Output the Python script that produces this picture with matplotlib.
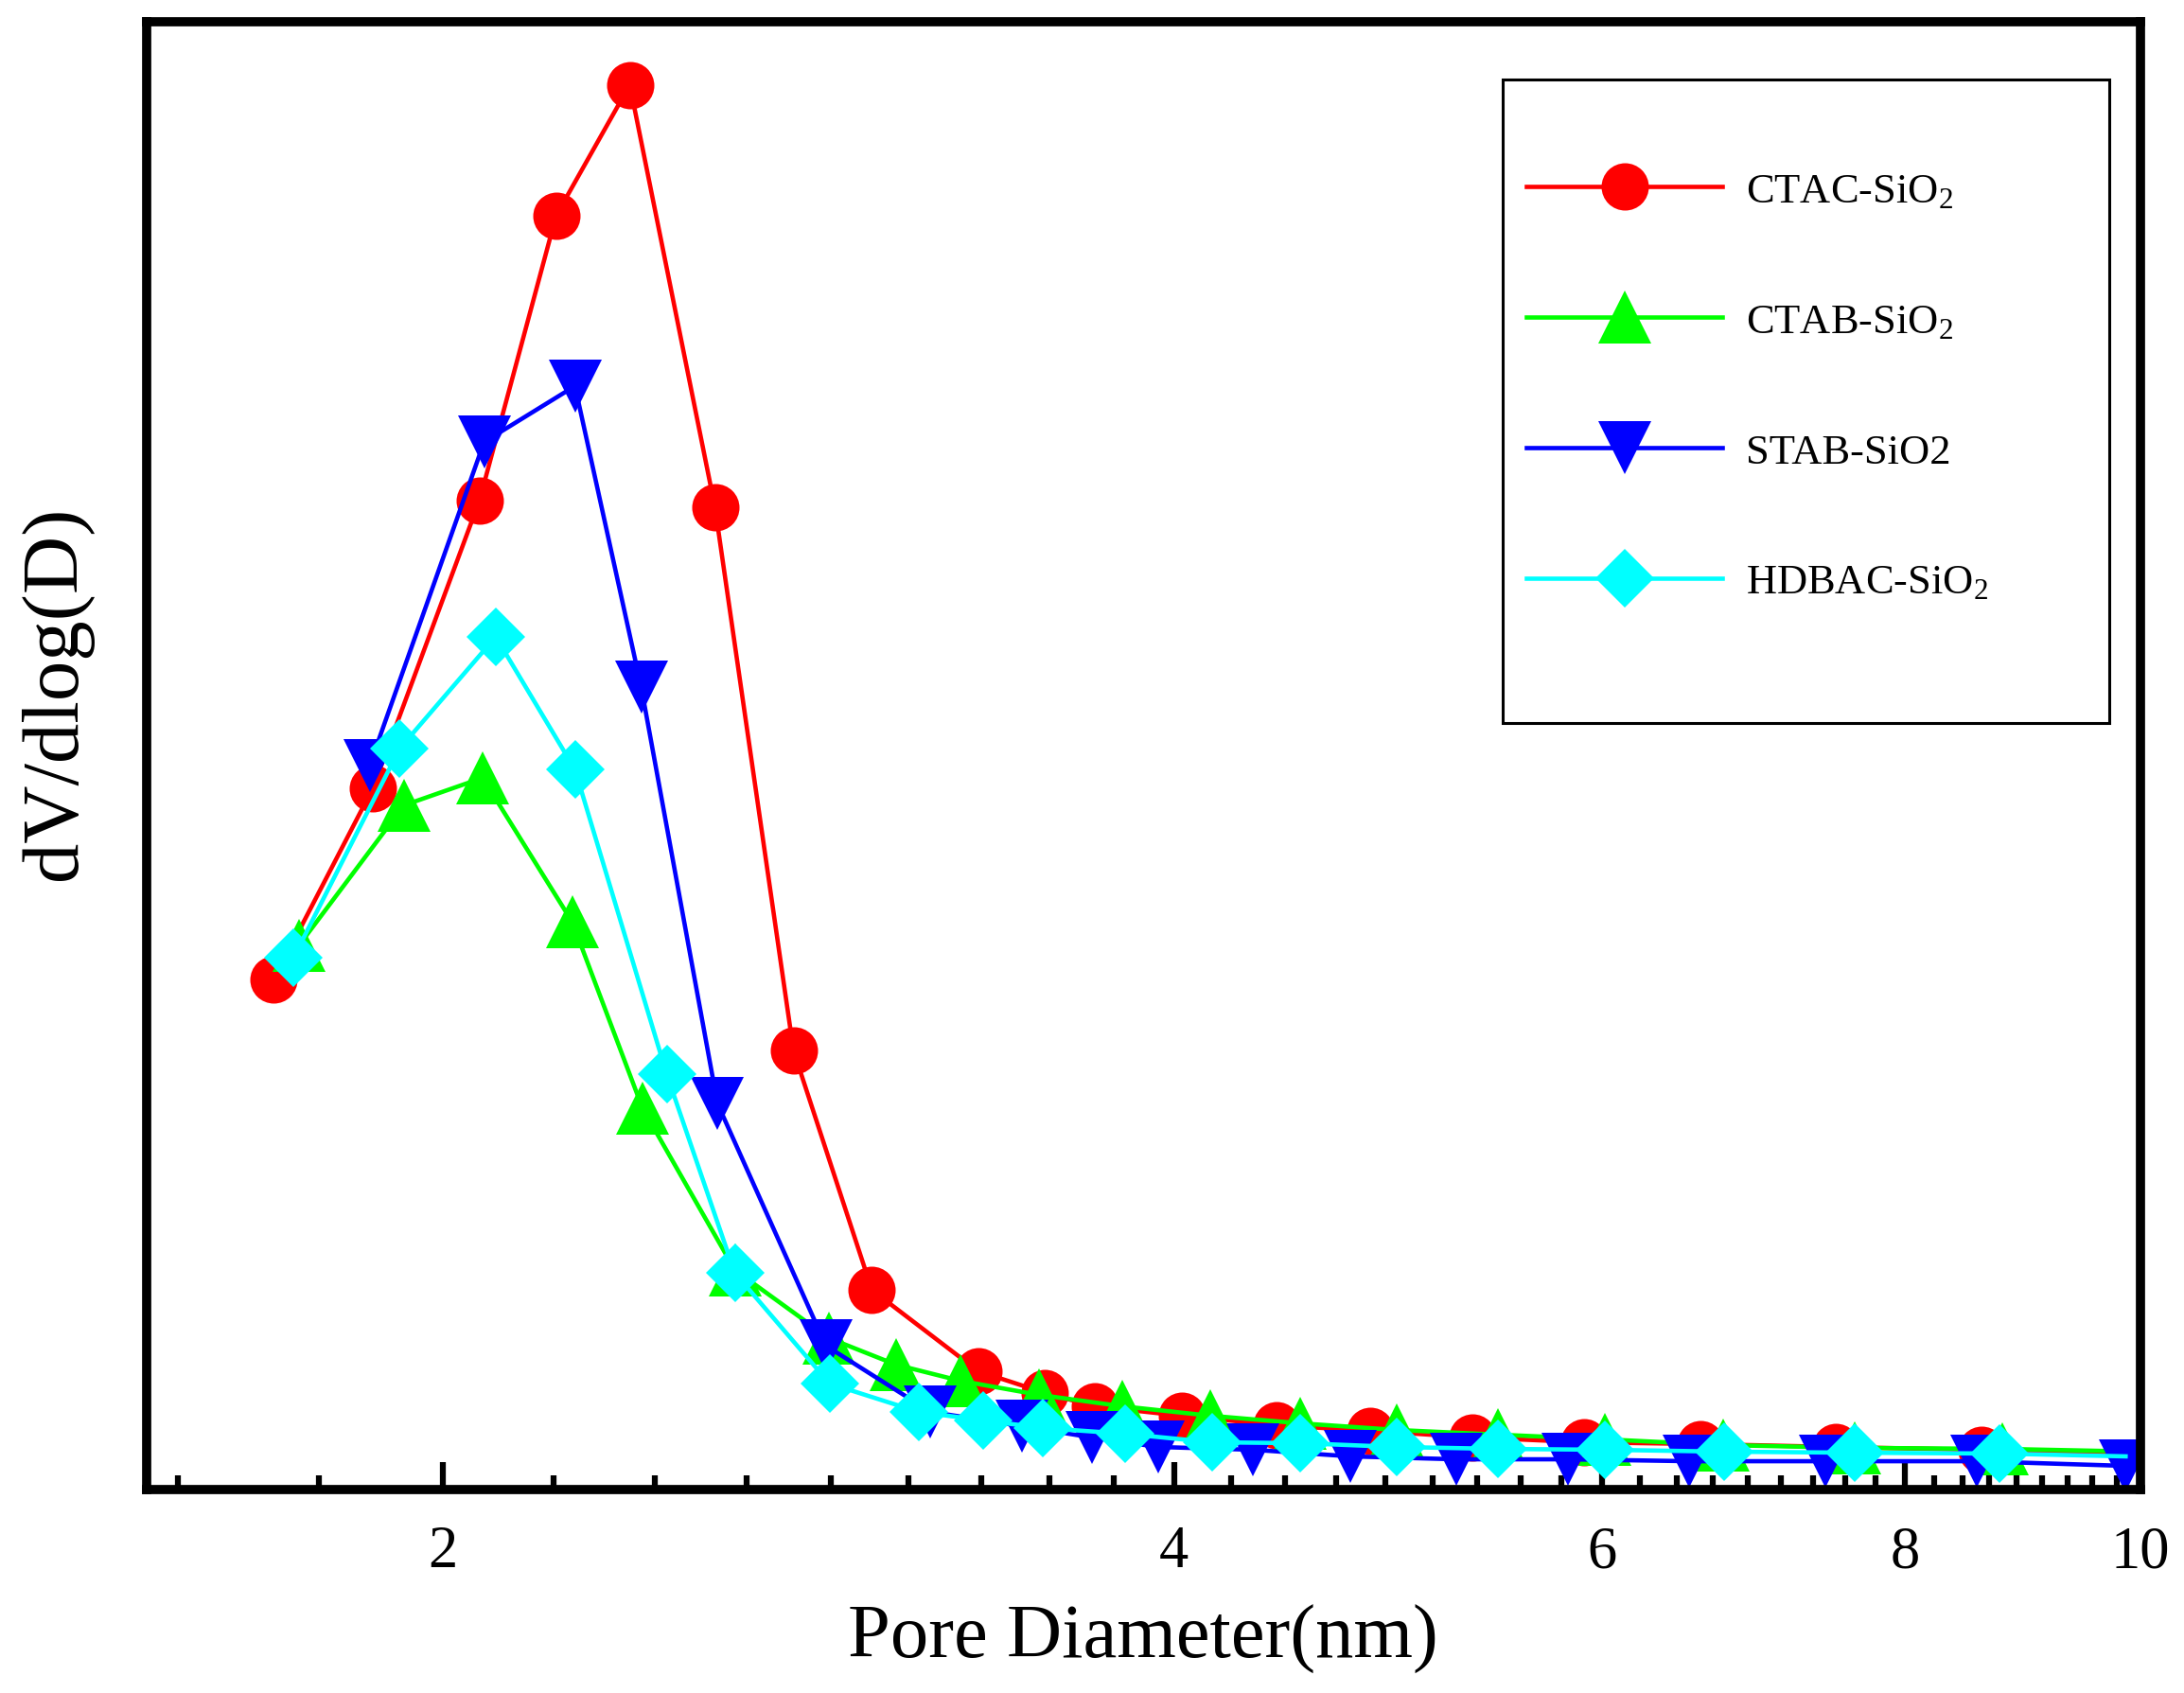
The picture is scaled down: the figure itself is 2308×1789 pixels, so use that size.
import numpy as np
import matplotlib
matplotlib.use('Agg')
import matplotlib.pyplot as plt
from matplotlib.ticker import FixedLocator, MultipleLocator, FixedFormatter, NullFormatter
from matplotlib.patches import Rectangle

plt.rcParams['font.family'] = ['Liberation Serif', 'DejaVu Serif']
plt.rcParams['mathtext.fontset'] = 'custom'
plt.rcParams['mathtext.rm'] = 'Liberation Serif'
plt.rcParams['mathtext.it'] = 'Liberation Serif:italic'
plt.rcParams['mathtext.bf'] = 'Liberation Serif:bold'

# ---------------- data (arbitrary y units) ----------------
ctac_x = [1.704, 1.872, 2.071, 2.227, 2.388, 2.589, 2.789, 3.004, 3.323, 3.54, 3.71, 4.03,
          4.41, 4.82, 5.31, 5.90, 6.59, 7.49, 8.60, 9.86]
ctac_y = [0.3475, 0.478, 0.674, 0.868, 0.957, 0.669, 0.299, 0.136, 0.0806, 0.0658, 0.0567,
          0.0503, 0.0438, 0.040, 0.0355, 0.0322, 0.031, 0.029, 0.027, 0.025]

ctab_x = [1.745, 1.928, 2.077, 2.261, 2.417, 2.638, 2.884, 3.073, 3.266, 3.52, 3.81, 4.14,
          4.51, 4.94, 5.44, 6.02, 6.73, 7.63, 8.77, 9.86]
ctab_y = [0.3707, 0.4662, 0.4849, 0.3868, 0.2598, 0.1496, 0.1032, 0.0851, 0.0741, 0.0645,
          0.0567, 0.0503, 0.0451, 0.0406, 0.0374, 0.0342, 0.0303, 0.0284, 0.0277, 0.026]

stab_x = [1.866, 2.08, 2.267, 2.414, 2.595, 2.876, 3.176, 3.462, 3.70, 3.94, 4.31, 4.73,
          5.23, 5.81, 6.52, 7.42, 8.56, 9.86]
stab_y = [0.4932, 0.7137, 0.7518, 0.5467, 0.263, 0.098, 0.0529, 0.0432, 0.0355, 0.029,
          0.0271, 0.0226, 0.0206, 0.0206, 0.0193, 0.0193, 0.0193, 0.0161]

hdbac_x = [1.736, 1.92, 2.103, 2.267, 2.473, 2.638, 2.886, 3.14, 3.338, 3.534, 3.82, 4.146,
           4.51, 4.94, 5.44, 6.02, 6.74, 7.63, 8.75, 9.86]
hdbac_y = [0.3623, 0.5048, 0.581, 0.4906, 0.283, 0.1476, 0.0722, 0.0529, 0.0471, 0.0419,
           0.038, 0.0322, 0.0316, 0.029, 0.0277, 0.0271, 0.0258, 0.0251, 0.0245, 0.0226]

labels = [r'CTAC-SiO$_{2}$', r'CTAB-SiO$_{2}$', 'STAB-SiO2', r'HDBAC-SiO$_{2}$']
colors = ['#FF0000', '#00FF00', '#0000FF', '#00FFFF']
markers = ['o', '^', 'v', 'D']
marker_sizes = [36, 40, 40, 32]

major_ticks = [2, 4, 6, 8, 10]
major_tick_labels = ['2', '4', '6', '8', '10']

# ---------------- figure ----------------
W, H = 2308, 1790
fig = plt.figure(figsize=(W / 100, H / 100), dpi=100)
ax_l, ax_r, ax_t, ax_b = 154.6, 2262, 24, 1575
ax = fig.add_axes([ax_l / W, 1 - ax_b / H, (ax_r - ax_l) / W, (ax_b - ax_t) / H])

series = [(ctac_x, ctac_y), (ctab_x, ctab_y), (stab_x, stab_y), (hdbac_x, hdbac_y)]
mark_last = [False, False, True, False]
for (x, y), c, m, ms, lab, ml in zip(series, colors, markers, marker_sizes, labels, mark_last):
    n = len(x)
    ax.plot(x, y, color=c, marker=m, markersize=ms, markeredgewidth=0,
            linewidth=3.3, label=lab,
            markevery=list(range(n)) if ml else list(range(n - 1)))

ax.set_xscale('log')
ax.set_xlim(1.51, 10.0)
ax.set_ylim(0, 1.0)

ax.xaxis.set_major_locator(FixedLocator(major_ticks))
ax.xaxis.set_major_formatter(FixedFormatter(major_tick_labels))
ax.xaxis.set_minor_locator(MultipleLocator(2 / 9))
ax.xaxis.set_minor_formatter(NullFormatter())
ax.tick_params(axis='x', which='major', direction='in', length=21, width=4.5,
               labelsize=45, pad=27, top=False, color='black')
ax.tick_params(axis='x', which='minor', direction='in', length=11, width=4.5,
               top=False, color='black')
ax.tick_params(axis='y', which='both', left=False, right=False, labelleft=False)

for sp in ax.spines.values():
    sp.set_linewidth(7)
    sp.set_color('black')

ax.set_xlabel('Pore Diameter(nm)', fontsize=58)
ax.xaxis.set_label_coords(0.5, -0.078)
ax.set_ylabel('dV/dlog(D)', fontsize=61)
ax.yaxis.set_label_coords(-0.027, 0.543)

# legend frame
fx0 = (1588 - ax_l) / (ax_r - ax_l)
fx1 = (2229 - ax_l) / (ax_r - ax_l)
fy0 = (ax_b - 765) / (ax_b - ax_t)
fy1 = (ax_b - 85) / (ax_b - ax_t)
ax.add_patch(Rectangle((fx0, fy0), fx1 - fx0, fy1 - fy0, transform=ax.transAxes,
                       fill=True, facecolor='white', edgecolor='black', linewidth=2.2,
                       zorder=4))
leg = ax.legend(loc='upper left', bbox_to_anchor=((1591 - ax_l) / (ax_r - ax_l), 0.912),
                frameon=False, borderpad=0, handlelength=4.66, handletextpad=0.55,
                labelspacing=2.2, fontsize=32)
leg.set_zorder(5)

fig.savefig('out.png', dpi=100)
